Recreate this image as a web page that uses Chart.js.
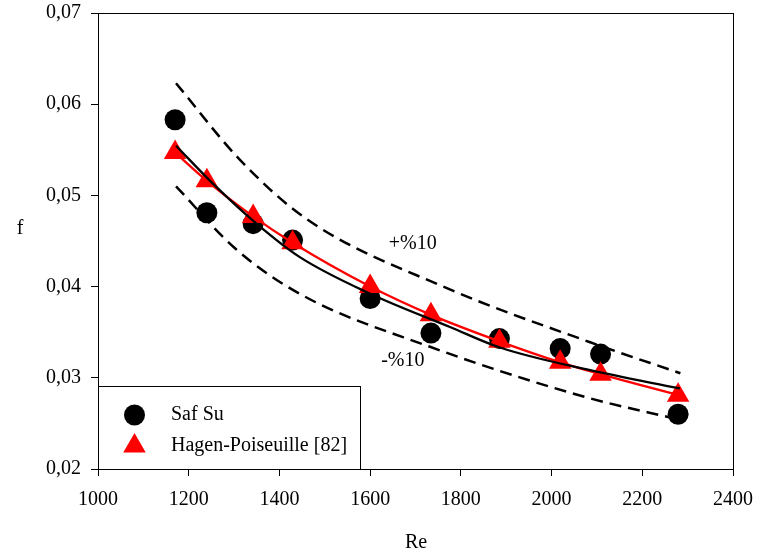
<!DOCTYPE html>
<html>
<head>
<meta charset="utf-8">
<script src="https://cdn.jsdelivr.net/npm/chart.js@4/dist/chart.umd.min.js"></script>
<style>
  html, body { margin: 0; padding: 0; background: #fff; }
  #wrap { width: 758px; height: 557px; }
</style>
</head>
<body>
<div id="wrap"><canvas id="chart" width="758" height="557"></canvas></div>
<script>
// Measured points (Re, f)
const reValues = [1170, 1240, 1342, 1429, 1600, 1734, 1885, 2019, 2108, 2279];
const safSu = [0.0583, 0.0481, 0.0469, 0.0451, 0.0387, 0.0349, 0.0343, 0.0332, 0.0326, 0.0260];
const hagenPoiseuille = [0.0547, 0.0516, 0.0477, 0.0448, 0.0400, 0.0369, 0.0340, 0.0317, 0.0304, 0.0281];

// Fit curve and +/-10% bands
const fitRe = [1172, 1254, 1350, 1445, 1600, 1776, 1886, 2085, 2283];
const fitF = [0.05545, 0.05126, 0.04688, 0.04323, 0.03922, 0.03557, 0.03332, 0.03083, 0.02883];
const upperRe = [1172, 1313, 1460, 1761, 2085, 2284];
const upperF = [0.0623, 0.0539, 0.0474, 0.0400, 0.0339, 0.0305];
const lowerRe = [1172, 1302, 1445, 1732, 2074, 2283];
const lowerF = [0.0510, 0.0442, 0.0392, 0.0334, 0.0279, 0.0254];

// Axis ticks
const xTicks = [1000, 1200, 1400, 1600, 1800, 2000, 2200, 2400];
const yTickLabels = ['0,02', '0,03', '0,04', '0,05', '0,06', '0,07'];

// Band labels: [text, Re, f]
const bandLabels = [['+%10', 1694, 0.0447], ['-%10', 1672, 0.0319]];

const FONT = '"Liberation Serif", "Times New Roman", serif';

const pts = (xs, ys) => xs.map((x, i) => ({ x: x, y: ys[i] }));

function drawMarker(ctx, style, x, y, r, color) {
    ctx.save();
    ctx.fillStyle = color;
    ctx.beginPath();
    if (style === 'circle') {
        ctx.arc(x, y, r, 0, Math.PI * 2);
    } else {
        ctx.moveTo(x, y - r);
        ctx.lineTo(x + r * 0.866, y + r * 0.5);
        ctx.lineTo(x - r * 0.866, y + r * 0.5);
        ctx.closePath();
    }
    ctx.fill();
    ctx.restore();
}

const framePlugin = {
    id: 'frame',
    beforeDraw(chart) {
        const ctx = chart.ctx;
        ctx.save();
        ctx.fillStyle = '#fff';
        ctx.fillRect(0, 0, chart.width, chart.height);
        ctx.restore();
    },
    afterDraw(chart) {
        const { ctx, chartArea: a, scales } = chart;
        ctx.save();
        ctx.strokeStyle = '#000';
        ctx.lineWidth = 1;
        ctx.strokeRect(Math.round(a.left) + 0.5, Math.round(a.top) + 0.5,
            Math.round(a.right - a.left), Math.round(a.bottom - a.top));

        ctx.fillStyle = '#000';
        ctx.font = '20px ' + FONT;
        ctx.textAlign = 'center';
        ctx.textBaseline = 'middle';
        // axis titles
        ctx.fillText('f', 20, 229);
        ctx.fillText('Re', 416, 543);
        // band labels
        bandLabels.forEach(([t, rx, fy]) => {
            ctx.fillText(t, scales.x.getPixelForValue(rx), scales.y.getPixelForValue(fy));
        });

        // legend box
        const lx = Math.round(a.left) + 0.5, ly = 386.5, lw = 262, lh = Math.round(a.bottom) - 386;
        ctx.fillStyle = '#fff';
        ctx.fillRect(lx, ly, lw, lh);
        ctx.strokeRect(lx, ly, lw, lh);
        const items = chart.data.datasets.filter(d => d.legendPos !== undefined)
            .sort((p, q) => p.legendPos - q.legendPos);
        items.forEach((d, i) => {
            const cy = 415 + i * 31;
            drawMarker(ctx, d.pointStyle, 134.5, cy, d.legendRadius, d.pointBackgroundColor);
            ctx.fillStyle = '#000';
            ctx.textAlign = 'left';
            ctx.fillText(d.label, 171, cy);
        });
        ctx.restore();
    }
};

const ctx = document.getElementById('chart');
new Chart(ctx, {
    type: 'scatter',
    data: {
        datasets: [
            {
                label: '+10%',
                data: pts(upperRe, upperF),
                showLine: true,
                borderColor: '#000',
                borderWidth: 2.5,
                borderDash: [12, 7],
                pointRadius: 0,
                cubicInterpolationMode: 'monotone',
                order: 1
            },
            {
                label: '-10%',
                data: pts(lowerRe, lowerF),
                showLine: true,
                borderColor: '#000',
                borderWidth: 2.5,
                borderDash: [12, 7],
                pointRadius: 0,
                cubicInterpolationMode: 'monotone',
                order: 1
            },
            {
                label: 'fit',
                data: pts(fitRe, fitF),
                showLine: true,
                borderColor: '#000',
                borderWidth: 2.3,
                pointRadius: 0,
                cubicInterpolationMode: 'monotone',
                order: 2
            },
            {
                label: 'Hagen-Poiseuille [82]',
                legendPos: 1,
                legendRadius: 13,
                data: pts(reValues, hagenPoiseuille),
                showLine: true,
                borderColor: '#ff0000',
                borderWidth: 2.3,
                cubicInterpolationMode: 'monotone',
                pointStyle: 'triangle',
                pointRadius: 13,
                pointBorderWidth: 0,
                pointBackgroundColor: '#ff0000',
                pointBorderColor: '#ff0000',
                order: 3
            },
            {
                label: 'Saf Su',
                legendPos: 0,
                legendRadius: 10.5,
                data: pts(reValues, safSu),
                pointStyle: 'circle',
                pointRadius: 10.5,
                pointBorderWidth: 0,
                pointBackgroundColor: '#000',
                pointBorderColor: '#000',
                order: 4
            }
        ]
    },
    options: {
        responsive: false,
        animation: false,
        layout: { padding: { top: 12, right: 25, left: 0, bottom: 0 } },
        plugins: {
            legend: { display: false },
            tooltip: { enabled: false }
        },
        scales: {
            x: {
                type: 'linear',
                min: xTicks[0],
                max: xTicks[xTicks.length - 1],
                afterBuildTicks: s => { s.ticks = xTicks.map(v => ({ value: v })); },
                afterFit: s => {
                    s.height = 88;
                    s.paddingLeft = 0;
                    s.paddingRight = 0;
                },
                grid: { drawOnChartArea: false, drawTicks: true, tickLength: 7, color: '#000' },
                border: { display: true, color: '#000' },
                ticks: {
                    color: '#000',
                    padding: 12,
                    maxRotation: 0,
                    font: { family: FONT, size: 20 },
                    callback: v => String(v)
                }
            },
            y: {
                type: 'linear',
                min: 0.02,
                max: 0.07,
                afterBuildTicks: s => { s.ticks = yTickLabels.map((t, i) => ({ value: 0.02 + i * 0.01 })); },
                afterFit: s => {
                    s.width = 98;
                    s.paddingTop = 0;
                    s.paddingBottom = 0;
                },
                grid: { drawOnChartArea: false, drawTicks: true, tickLength: 7, color: '#000' },
                border: { display: true, color: '#000' },
                ticks: {
                    color: '#000',
                    padding: 10,
                    font: { family: FONT, size: 20 },
                    callback: (v, i) => yTickLabels[i]
                }
            }
        }
    },
    plugins: [framePlugin]
});
</script>
</body>
</html>
